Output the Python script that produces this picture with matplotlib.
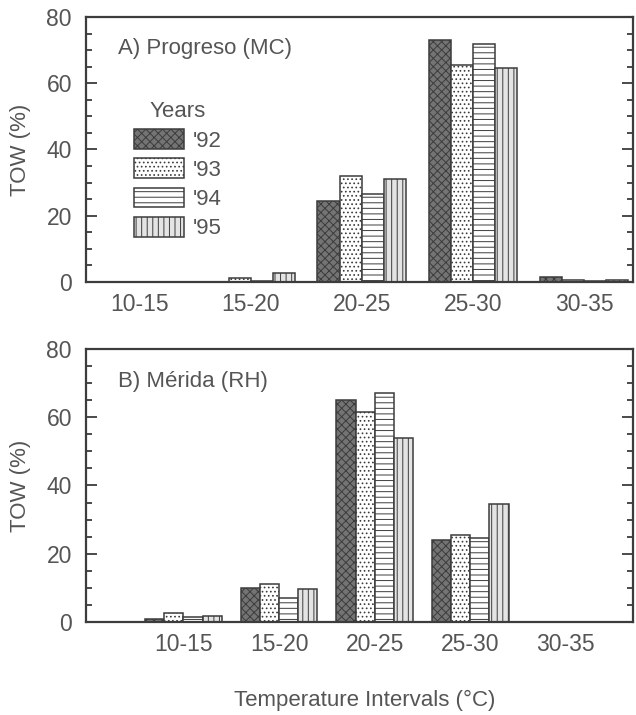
"""Time of wetness (TOW) by temperature interval, Progreso vs Merida."""
import numpy as np
import matplotlib
matplotlib.use('Agg')
import matplotlib.pyplot as plt
from matplotlib.ticker import MultipleLocator

# data
intervals = ['10-15', '15-20', '20-25', '25-30', '30-35']
years = ["'92", "'93", "'94", "'95"]

progreso_92 = [0.0, 0.0, 24.5, 73.0, 1.5]
progreso_93 = [0.0, 1.0, 32.0, 65.5, 0.4]
progreso_94 = [0.0, 0.3, 26.5, 72.0, 0.3]
progreso_95 = [0.0, 2.5, 31.0, 64.5, 0.5]

merida_92 = [1.0, 10.0, 65.0, 24.0, 0.0]
merida_93 = [2.6, 11.2, 61.5, 25.5, 0.0]
merida_94 = [1.6, 7.0, 67.0, 24.5, 0.0]
merida_95 = [1.9, 9.6, 54.0, 34.5, 0.0]

INK = '#3c3c3c'
TXT = '#555555'
# (face colour, hatch) for each year
STYLES = [('#747474', 'xxxx'), ('#ffffff', '....'),
          ('#ffffff', '---'), ('#e4e4e4', '|||')]

plt.rcParams['font.family'] = ['Liberation Sans', 'DejaVu Sans']
plt.rcParams['hatch.color'] = '#666666'
plt.rcParams['hatch.linewidth'] = 0.7

FS_TICK = 16.5
FS_TXT = 16


def draw_panel(ax, series, title, xlim):
    x = np.arange(len(intervals)) * 5.0
    for i, vals in enumerate(series):
        face, hatch = STYLES[i]
        ax.bar(x + (i - 1.5), vals, width=1.0, facecolor=face, hatch=hatch,
               edgecolor=INK, linewidth=1.1, label=years[i])
    ax.set_xlim(*xlim)
    ax.set_ylim(0, 80)
    ax.set_xticks(x)
    ax.set_xticklabels(intervals)
    ax.yaxis.set_major_locator(MultipleLocator(20))
    ax.yaxis.set_minor_locator(MultipleLocator(5))
    ax.tick_params(axis='y', which='both', direction='in', left=True,
                   right=True, color=INK, width=1.3, labelsize=FS_TICK,
                   labelcolor=TXT, pad=10)
    ax.tick_params(axis='y', which='major', length=8)
    ax.tick_params(axis='y', which='minor', length=4)
    ax.tick_params(axis='x', length=0, labelsize=FS_TICK, labelcolor=TXT,
                   pad=8)
    for s in ax.spines.values():
        s.set_color(INK)
        s.set_linewidth(1.6)
    ax.set_ylabel('TOW (%)', fontsize=FS_TXT, color=TXT, labelpad=11)
    ax.text(0.058, 0.88, title, transform=ax.transAxes, fontsize=FS_TXT,
            color=TXT, ha='left', va='center')


fig = plt.figure(figsize=(6.36, 7.15), dpi=100)
ax1 = fig.add_axes([0.135, 0.606, 0.860, 0.370])
ax2 = fig.add_axes([0.135, 0.130, 0.860, 0.382])

draw_panel(ax1, [progreso_92, progreso_93, progreso_94, progreso_95],
           'A) Progreso (MC)', (-2.43, 22.2))
draw_panel(ax2, [merida_92, merida_93, merida_94, merida_95],
           'B) Mérida (RH)', (-5.1, 23.5))

leg = ax1.legend(title='Years', loc='upper left',
                 bbox_to_anchor=(0.072, 0.715), frameon=False,
                 fontsize=FS_TXT, title_fontsize=FS_TXT,
                 handlelength=2.25, handleheight=1.0, labelspacing=0.3,
                 handletextpad=0.4, borderaxespad=0)
leg._legend_box.align = 'center'
for t in leg.get_texts():
    t.set_color(TXT)
leg.get_title().set_color(TXT)

fig.text(0.574, 0.021, 'Temperature Intervals (°C)', ha='center',
         va='center', fontsize=FS_TXT, color=TXT)

fig.savefig('out.png', dpi=100)
